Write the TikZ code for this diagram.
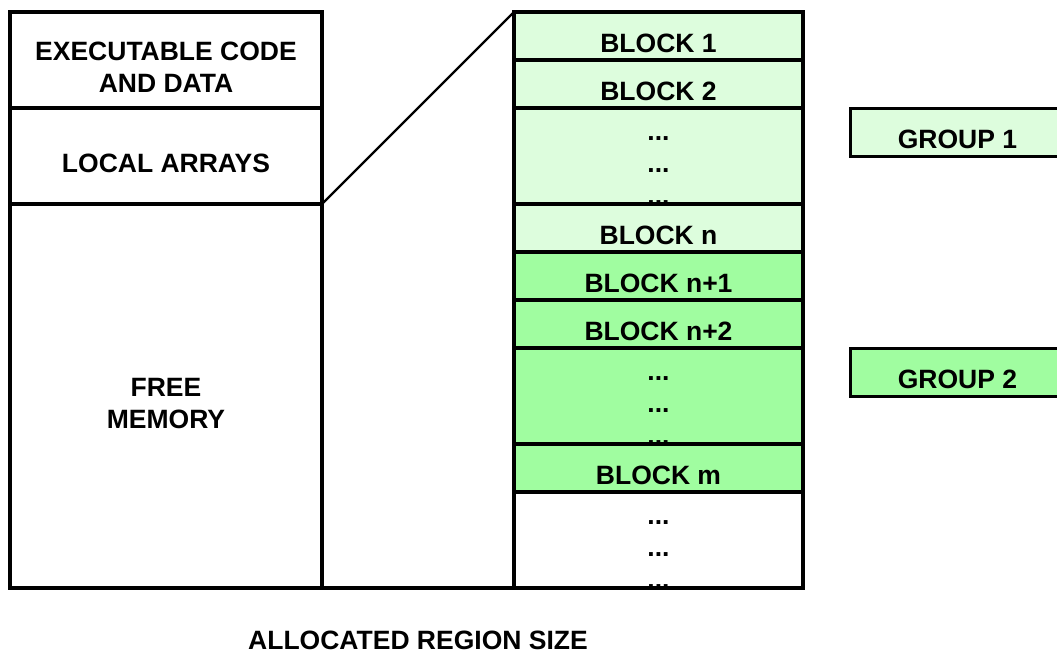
\documentclass[tikz,border=0pt]{standalone}
\usepackage{fontspec}
\setmainfont{Liberation Sans}
\usetikzlibrary{positioning, calc}

\definecolor{litegreen}{RGB}{221,253,221}
\definecolor{leafgreen}{RGB}{160,253,160}

\tikzset{
  memcell/.style={draw, line width=3.2pt, minimum width=312pt, minimum height=96pt,
    inner sep=0pt, outer sep=0pt, align=center, text height=32pt, text depth=0pt},
  twolines/.style={text height=65pt, text depth=0pt},
  blockcell/.style={draw, line width=3.2pt, minimum width=289pt, minimum height=48pt,
    inner sep=0pt, outer sep=0pt, text height=32pt, text depth=0pt},
  gapcell/.style={blockcell, minimum height=96pt},
  groupcell/.style={draw, line width=3pt, minimum width=215pt, minimum height=48pt,
    inner sep=0pt, outer sep=0pt, text height=32pt, text depth=0pt},
  dotrow/.style={inner sep=0pt, anchor=base},
  frame/.style={line width=3.4pt},
  slant/.style={line width=2.2pt}
}

\begin{document}
\begin{tikzpicture}[x=1pt, y=-1pt,
  font=\bfseries\fontsize{26.5}{32.5}\selectfont] % one unit is one pixel of the reference
  \useasboundingbox (0,0) rectangle (1057,654);

  % memory of the program
  \node[memcell, twolines, anchor=north west] (exec) at (10,12) {EXECUTABLE CODE\\AND DATA};
  \node[memcell, below=0pt of exec] (local) {LOCAL ARRAYS};
  \node[memcell, twolines, minimum height=384pt, below=0pt of local] (free) {FREE\\MEMORY};

  % blocks of the allocated region
  \node[blockcell, fill=litegreen, right=192pt of exec.north east, anchor=north west] (b1) {BLOCK 1};
  \node[blockcell, fill=litegreen, below=0pt of b1] (b2) {BLOCK 2};
  \node[gapcell, fill=litegreen, below=0pt of b2] (gapa) {};
  \foreach \k in {1,2,3}
    \node[dotrow] (gapa-\k) at ([yshift=-\k*32pt]gapa.north) {...};
  \node[blockcell, fill=litegreen, below=0pt of gapa] (bn) {BLOCK n};
  \node[blockcell, fill=leafgreen, below=0pt of bn] (bn1) {BLOCK n+1};
  \node[blockcell, fill=leafgreen, below=0pt of bn1] (bn2) {BLOCK n+2};
  \node[gapcell, fill=leafgreen, below=0pt of bn2] (gapb) {};
  \foreach \k in {1,2,3}
    \node[dotrow] (gapb-\k) at ([yshift=-\k*32pt]gapb.north) {...};
  \node[blockcell, fill=leafgreen, below=0pt of gapb] (bm) {BLOCK m};
  \node[gapcell, fill=white, below=0pt of bm] (rest) {};
  \foreach \k in {1,2,3}
    \node[dotrow] (rest-\k) at ([yshift=-\k*32pt]rest.north) {...};

  % groups
  \node[groupcell, fill=litegreen, right=47pt of b2.south east, anchor=north west] (grp1) {GROUP 1};
  \node[groupcell, fill=leafgreen, right=47pt of bn2.south east, anchor=north west] (grp2) {GROUP 2};

  \draw[slant] (free.north east) -- (b1.north west);
  \draw[frame] (free.south west) -- (rest.south east);

  \coordinate (mid) at ($(free.south east)!.5!(rest.south west)$);
  \node[dotrow] (size) at ([yshift=-61pt]mid) {ALLOCATED REGION SIZE};
\end{tikzpicture}
\end{document}
